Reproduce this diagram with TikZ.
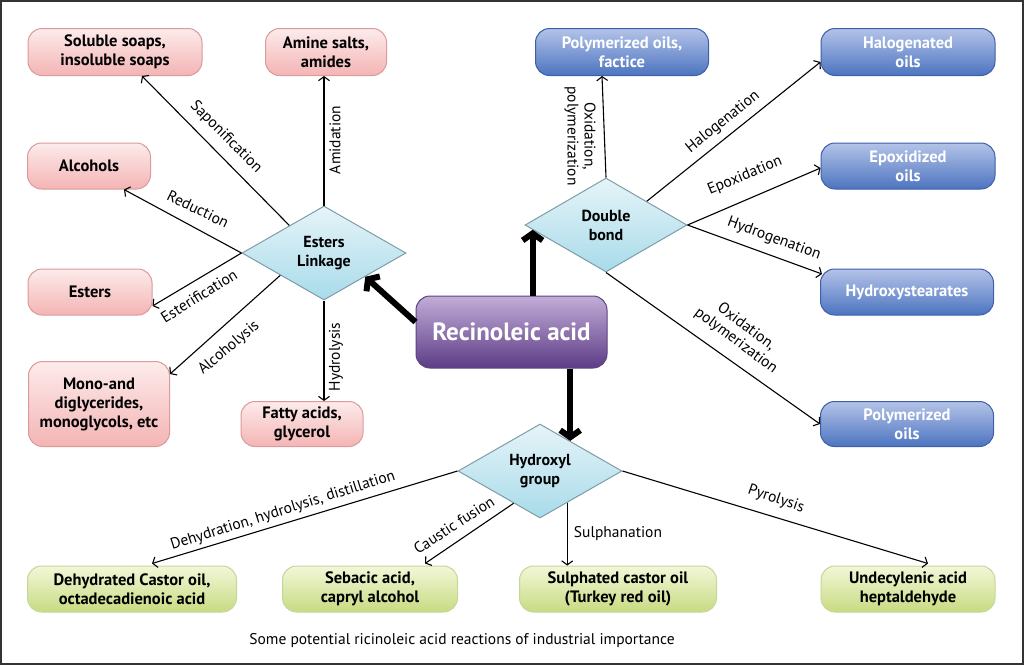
\documentclass[tikz,border=0pt]{standalone}
\usepackage{fontspec}
\setmainfont{PT Sans}
\usetikzlibrary{shapes.geometric,arrows.meta,calc}
\definecolor{pinkD}{HTML}{DC9A9A}
\definecolor{pinkT}{HTML}{FDEBEB}
\definecolor{pinkBt}{HTML}{F4B4B4}
\definecolor{blueD}{HTML}{3E5FA8}
\definecolor{blueT}{HTML}{B4C3E8}
\definecolor{blueM}{HTML}{7393D2}
\definecolor{blueBt}{HTML}{4C74C0}
\definecolor{greenD}{HTML}{C4D79B}
\definecolor{greenT}{HTML}{F2F7D8}
\definecolor{greenBt}{HTML}{C8DB82}
\definecolor{purpD}{HTML}{5E4480}
\definecolor{purpT}{HTML}{C2ADD8}
\definecolor{purpM}{HTML}{7454A0}
\definecolor{purpBt}{HTML}{5C3C86}
\definecolor{diaD}{HTML}{7E9DA8}
\definecolor{diaT}{HTML}{E6F4F8}
\definecolor{diaM}{HTML}{B2DEEB}
\definecolor{diaBt}{HTML}{A8DBEA}
\begin{document}
\begin{tikzpicture}[x=1pt,y=-1pt,
  box/.style={rounded corners=14pt, draw, line width=1pt, align=center,
    font=\fontsize{16.5}{19}\selectfont\bfseries, inner sep=0pt},
  pinkbox/.style={box, draw=pinkD, top color=pinkT, bottom color=pinkBt},
  bluebox/.style={box, draw=blueD, top color=blueT, middle color=blueM, bottom color=blueBt, text=white},
  greenbox/.style={box, draw=greenD, top color=greenT, bottom color=greenBt},
  dia/.style={diamond, draw=diaD, line width=1pt, top color=diaT, middle color=diaM, bottom color=diaBt,
    minimum width=164pt, minimum height=94pt, inner sep=0pt, aspect=1.745, align=center,
    font=\fontsize{16}{19}\selectfont\bfseries},
  lbl/.style={font=\fontsize{15.5}{17}\selectfont, inner sep=1pt, align=center},
  edge/.style={line width=1.1pt, -{Straight Barb[length=4pt,width=11pt]}},
  big/.style={line width=6pt, -{Straight Barb[length=7pt,width=20pt,line width=6pt]}}
]
\useasboundingbox (0,0) rectangle (1024,665);
\draw[line width=1.5pt, black!80] (1,1) rectangle (1023,664);

% pink boxes
\node[pinkbox, minimum width=174pt, minimum height=47pt] (soap) at (115,52) {Soluble soaps,\\insoluble soaps};
\node[pinkbox, minimum width=121pt, minimum height=47pt] (amine) at (326,52) {Amine salts,\\amides};
\node[pinkbox, minimum width=123pt, minimum height=46pt] (alc) at (89,166) {Alcohols};
\node[pinkbox, minimum width=124pt, minimum height=46pt] (ester) at (90,292) {Esters};
\node[pinkbox, minimum width=141pt, minimum height=85pt] (mono) at (99,404) {Mono-and\\diglycerides,\\monoglycols, etc};
\node[pinkbox, minimum width=122pt, minimum height=45pt] (fatty) at (302,424) {Fatty acids,\\glycerol};

% blue boxes
\node[bluebox, minimum width=173pt, minimum height=47pt] (fact) at (622,52) {Polymerized oils,\\factice};
\node[bluebox, minimum width=174pt, minimum height=47pt] (halo) at (908,52) {Halogenated\\oils};
\node[bluebox, minimum width=174pt, minimum height=46pt] (epo) at (908,166) {Epoxidized\\oils};
\node[bluebox, minimum width=173pt, minimum height=46pt] (hyst) at (907,292) {Hydroxystearates};
\node[bluebox, minimum width=173pt, minimum height=45pt] (poly) at (907,424) {Polymerized\\oils};

% green boxes
\node[greenbox, minimum width=209pt, minimum height=46pt] (dehyd) at (132,589) {Dehydrated Castor oil,\\octadecadienoic acid};
\node[greenbox, minimum width=175pt, minimum height=46pt] (seb) at (370,589) {Sebacic acid,\\capryl alcohol};
\node[greenbox, minimum width=197pt, minimum height=46pt] (sulph) at (618,589) {Sulphated castor oil\\(Turkey red oil)};
\node[greenbox, minimum width=174pt, minimum height=46pt] (undec) at (908,589) {Undecylenic acid\\heptaldehyde};

% central box
\node[box, rounded corners=14pt, draw=purpD, top color=purpT, middle color=purpM, bottom color=purpBt,
  text=white, minimum width=191pt, minimum height=72pt, font=\fontsize{25}{30}\selectfont\bfseries] (rec) at (511.5,332) {Recinoleic acid};

% diamonds
\node[dia] (es) at (324,253) {Esters\\Linkage};
\node[dia, minimum width=162pt] (db) at (606,225) {Double\\bond};
\node[dia] (hy) at (540,471) {Hydroxyl\\group};

% coordinates on diamond edges
\coordinate (esA) at ($(es.north)!0.42!(es.west)$);
\coordinate (esB) at ($(es.west)!0.47!(es.south)$);
\coordinate (esC) at ($(es.east)!0.5!(es.south)$);
\coordinate (dbA) at ($(db.west)!0.1!(db.south)$);
\coordinate (dbB) at ($(db.north)!0.5!(db.east)$);
\coordinate (hyA) at ($(hy.north)!0.366!(hy.east)$);
\coordinate (hyB) at ($(hy.west)!0.68!(hy.south)$);
\coordinate (hyC) at ($(hy.south)!0.33!(hy.east)$);

% esters edges
\draw[edge] (esA) -- ($(soap.south)+(27,0)$);
\draw[edge] (es.north) -- (es.north |- amine.south);
\draw[edge] (es.west) -- ($(alc.south)+(35,0)$);
\draw[edge] (es.west) -- ($(ester.east)+(0,14)$);
\draw[edge] (esB) -- ($(mono.north east)+(0,13)$);
\draw[edge] (es.south) -- (es.south |- fatty.north);

% double bond edges
\draw[edge] (db.north) -- ($(fact.south)+(-20,0)$);
\draw[edge] (dbB) -- ($(halo.west)+(0,10)$);
\draw[edge] (db.east) -- ($(epo.west)+(0,2)$);
\draw[edge] (db.east) -- ($(hyst.west)+(2,-18)$);
\draw[edge] (db.south) -- (poly.west);

% hydroxyl edges
\draw[edge] (hy.west) -- ($(dehyd.north)+(20,-2)$);
\draw[edge] (hyB) -- ($(seb.north)+(55,-2)$);
\draw[edge] (hyC) -- (hyC |- sulph.north);
\draw[edge] (hy.east) -- ($(undec.north)+(20,-2)$);

% big arrows
\draw[big] ($(rec.west)+(0,-10)$) -- (esC);
\draw[big] (dbA |- rec.north) -- (dbA);
\draw[big] (hyA |- rec.south) -- (hyA);

% labels
\node[lbl, rotate=-45] (lsap) at (226,137) {Saponification};
\node[lbl, rotate=90] (lami) at (335,140) {Amidation};
\node[lbl, rotate=-26] (lred) at (198,209) {Reduction};
\node[lbl, rotate=32] (lest) at (199,296) {Esterification};
\node[lbl, rotate=40] (lalc) at (229,348) {Alcoholysis};
\node[lbl, rotate=90] (lhyd) at (336,357) {Hydrolysis};
\node[lbl, rotate=-90] (lox1) at (580,136) {Oxidation,\\polymerization};
\node[lbl, rotate=39] (lhal) at (723,122) {Halogenation};
\node[lbl, rotate=22.5] (lepo) at (745,176) {Epoxidation};
\node[lbl, rotate=-20] (lhydg) at (774,239) {Hydrogenation};
\node[lbl, rotate=-37] (lox2) at (741,334) {Oxidation,\\polymerization};
\node[lbl, rotate=17.5] (ldeh) at (283,511) {Dehydration, hydrolysis, distillation};
\node[lbl, rotate=33] (lcau) at (454,525) {Caustic fusion};
\node[lbl] (lsul) at (618,534) {Sulphanation};
\node[lbl, rotate=-19] (lpyr) at (776,499) {Pyrolysis};

\node[lbl] (cap) at (462,641) {Some potential ricinoleic acid reactions of industrial importance};
\end{tikzpicture}
\end{document}
